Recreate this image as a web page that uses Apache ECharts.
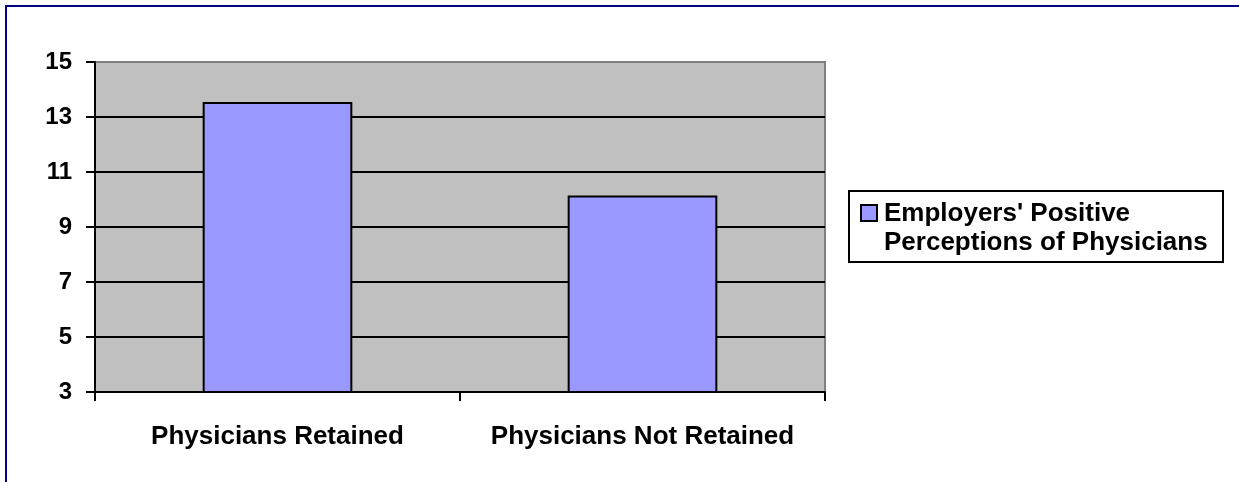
<!DOCTYPE html>
<html>
<head>
<meta charset="utf-8">
<script src="https://cdn.jsdelivr.net/npm/echarts@6/dist/echarts.min.js"></script>
<style>
html,body{margin:0;padding:0;background:#fff;}
#chart{width:1239px;height:482px;}
</style>
</head>
<body>
<div id="chart"></div>
<script>
const categories = ['Physicians Retained', 'Physicians Not Retained'];
const seriesName = "Employers' Positive\nPerceptions of Physicians";
const values = [13.55, 10.15];
const yTicks = { min: 3, max: 15, interval: 2 };

const chart = echarts.init(document.getElementById('chart'));
const FONT = 'Arial, "Liberation Sans", sans-serif';
chart.setOption({
  animation: false,
  backgroundColor: '#fff',
  grid: {
    left: 95, right: 414, top: 62, bottom: 90,
    show: true, backgroundColor: '#C0C0C0', borderColor: '#808080', borderWidth: 2
  },
  xAxis: {
    type: 'category',
    data: categories,
    axisLine: { lineStyle: { color: '#000', width: 2 } },
    axisTick: { show: true, length: 9, lineStyle: { color: '#000', width: 2 } },
    axisLabel: { interval: 0, color: '#000', fontFamily: FONT, fontWeight: 'bold', fontSize: 26, margin: 32 }
  },
  yAxis: {
    type: 'value',
    min: yTicks.min, max: yTicks.max, interval: yTicks.interval,
    axisLine: { show: true, lineStyle: { color: '#000', width: 2 } },
    axisTick: { show: true, length: 9, lineStyle: { color: '#000', width: 2 } },
    axisLabel: { color: '#000', fontFamily: FONT, fontWeight: 'bold', fontSize: 24, margin: 23 },
    splitLine: { show: true, lineStyle: { color: ['#000','#000','#000','#000','#000','#000','#808080'], width: 2 } }
  },
  legend: {
    show: true,
    left: 860, top: 199,
    orient: 'vertical',
    icon: 'path://M0,0h16v16h-16z M0,46h0',
    itemWidth: 16, itemHeight: 46,
    itemGap: 0,
    padding: 0,
    itemStyle: { color: '#9999FF', borderColor: '#000', borderWidth: 2 },
    textStyle: { color: '#000', fontFamily: FONT, fontWeight: 'bold', fontSize: 26, lineHeight: 29, padding: [0, 0, 0, 2] },
    data: [seriesName]
  },
  graphic: [
    { type: 'rect', silent: true, z: 0, shape: { x: 6, y: 6, width: 1300, height: 600 },
      style: { fill: 'none', stroke: '#000080', lineWidth: 2 } },
    { type: 'rect', silent: true, z: 0, shape: { x: 849, y: 191, width: 374, height: 71 },
      style: { fill: '#fff', stroke: '#000', lineWidth: 2 } }
  ],
  series: [{
    type: 'bar',
    name: seriesName,
    data: values,
    barWidth: '41%',
    itemStyle: { color: '#9999FF', borderColor: '#000', borderWidth: 2 }
  }]
});
</script>
</body>
</html>
